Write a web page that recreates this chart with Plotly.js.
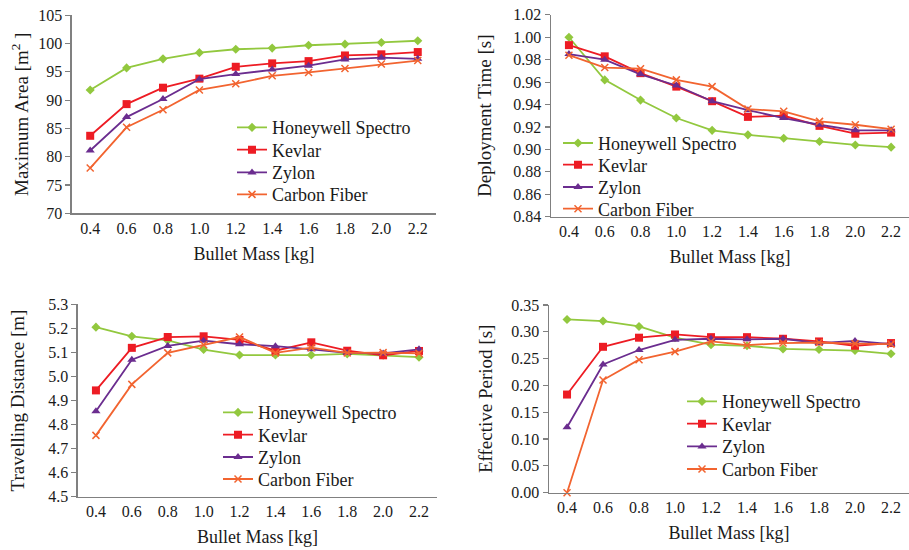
<!DOCTYPE html>
<html>
<head>
<meta charset="utf-8">
<script src="https://cdn.plot.ly/plotly-3.0.1.min.js"></script>
<style>html,body{margin:0;padding:0;background:#fff;}#chart{width:909px;height:550px;}</style>
</head>
<body>
<div id="chart"></div>
<script>
const massLabels = ["0.4","0.6","0.8","1.0","1.2","1.4","1.6","1.8","2.0","2.2"];
const seriesNames = ["Honeywell Spectro","Kevlar","Zylon","Carbon Fiber"];

// Maximum Area [m^2]
const areaHoneywell = [91.8,95.7,97.3,98.4,99.0,99.2,99.7,99.9,100.2,100.5];
const areaKevlar    = [83.7,89.3,92.2,93.8,95.9,96.5,96.9,97.9,98.1,98.5];
const areaZylon     = [81.1,87.0,90.2,93.7,94.6,95.4,96.1,97.2,97.5,97.3];
const areaCarbon    = [78.0,85.2,88.3,91.8,92.9,94.3,94.9,95.6,96.4,97.0];

// Deployment Time [s]
const timeHoneywell = [1.000,0.962,0.944,0.928,0.917,0.913,0.910,0.907,0.904,0.902];
const timeKevlar    = [0.993,0.983,0.968,0.956,0.943,0.929,0.930,0.921,0.914,0.915];
const timeZylon     = [0.985,0.980,0.967,0.957,0.943,0.935,0.928,0.922,0.917,0.917];
const timeCarbon    = [0.984,0.973,0.972,0.962,0.956,0.936,0.934,0.925,0.922,0.918];

// Travelling Distance [m]
const distHoneywell = [5.205,5.167,5.150,5.112,5.089,5.089,5.089,5.094,5.088,5.080];
const distKevlar    = [4.942,5.119,5.164,5.167,5.152,5.107,5.142,5.107,5.088,5.106];
const distZylon     = [4.855,5.070,5.127,5.149,5.134,5.126,5.113,5.098,5.096,5.113];
const distCarbon    = [4.755,4.967,5.098,5.132,5.164,5.098,5.120,5.098,5.099,5.096];

// Effective Period [s]
const periodHoneywell = [0.323,0.320,0.310,0.289,0.276,0.274,0.268,0.267,0.265,0.259];
const periodKevlar    = [0.183,0.272,0.289,0.295,0.290,0.290,0.287,0.282,0.274,0.279];
const periodZylon     = [0.122,0.239,0.266,0.285,0.287,0.286,0.287,0.279,0.283,0.277];
const periodCarbon    = [0.000,0.210,0.248,0.263,0.282,0.275,0.279,0.280,0.278,0.277];

const colors = ["#92c83e","#ed1c24","#6b2d8f","#f26430"];
const symbols = ["diamond","square","triangle-up","x-thin"];
const msizes = [7,8,8,7];

const fontFam = "'Liberation Serif', 'Times New Roman', Times, serif";
const tickTxt = {family: fontFam, size: 16, color: "#1a1a1a"};
const titleTxt = {family: fontFam, size: 18, color: "#1a1a1a"};
const yTitleTxt = {family: fontFam, size: 19, color: "#1a1a1a"};
const legTxt = {family: fontFam, size: 18, color: "#1a1a1a"};

// legend placement per panel (px): left of legend line, row centers
const panels = [
  {data:[areaHoneywell,areaKevlar,areaZylon,areaCarbon], xa:"x", ya:"y",
   legX: 232, legRows: [127.7,150,172.7,194.7]},
  {data:[timeHoneywell,timeKevlar,timeZylon,timeCarbon], xa:"x2", ya:"y2",
   legX: 558, legRows: [143.3,165,187.3,209]},
  {data:[distHoneywell,distKevlar,distZylon,distCarbon], xa:"x3", ya:"y3",
   legX: 218, legRows: [412.7,435,457.3,479.3]},
  {data:[periodHoneywell,periodKevlar,periodZylon,periodCarbon], xa:"x4", ya:"y4",
   legX: 682, legRows: [401.7,424,446.7,469.3]}
];

const traces = [];
const legends = {};
let legIdx = 0;
panels.forEach(p => {
  p.data.forEach((vals, i) => {
    legIdx++;
    const lid = legIdx === 1 ? "legend" : "legend" + legIdx;
    legends[lid] = {
      x: p.legX / 909, y: 1 - p.legRows[i] / 550,
      xanchor: "left", yanchor: "middle",
      bgcolor: "rgba(0,0,0,0)", borderwidth: 0,
      font: legTxt, itemwidth: 30
    };
    traces.push({
      type:"scatter", mode:"lines+markers",
      x: massLabels, y: vals, name: seriesNames[i],
      xaxis: p.xa, yaxis: p.ya, legend: lid,
      cliponaxis: false,
      line:{color:colors[i], width:1.8},
      marker:{color:colors[i], symbol:symbols[i], size:msizes[i],
              line:{color:colors[i], width: i===3 ? 1.5 : 0}}
    });
  });
});

function xAxis(domain, anchor) {
  return {
    domain: domain, anchor: anchor, type: "category",
    categoryorder: "array", categoryarray: massLabels,
    range: [-0.5, 9.5],
    showline: true, linecolor: "#808080", linewidth: 1.5,
    ticks: "", showgrid: false, zeroline: false,
    tickfont: tickTxt,
    title: {text: "Bullet Mass [kg]", font: titleTxt, standoff: 11}
  };
}
function yAxis(domain, anchor, range, dtick, fmt, title, standoff) {
  return {
    domain: domain, anchor: anchor, range: range, dtick: dtick, tickformat: fmt,
    showline: true, linecolor: "#808080", linewidth: 1.5,
    ticks: "outside", ticklen: 5, tickcolor: "#808080", tickwidth: 1.2,
    showgrid: false, zeroline: false,
    tickfont: tickTxt,
    title: {text: title, font: yTitleTxt, standoff: standoff}
  };
}

const layout = Object.assign({
  width: 909, height: 550,
  margin: {l:0, r:0, t:0, b:0},
  paper_bgcolor: "#fff", plot_bgcolor: "#fff",
  font: tickTxt,
  showlegend: true,
  xaxis:  xAxis([0.0792, 0.4796], "y"),
  yaxis:  yAxis([0.6122, 0.9722], "x", [70, 105], 5, "d", "Maximum Area [m<sup>2</sup> ]", 4),
  xaxis2: xAxis([0.6062, 1.0], "y2"),
  yaxis2: yAxis([0.606, 0.973], "x2", [0.84, 1.02], 0.02, ".2f", "Deployment Time [s]", 16),
  xaxis3: xAxis([0.0858, 0.4807], "y3"),
  yaxis3: yAxis([0.0969, 0.4467], "x3", [4.5, 5.3], 0.1, ".1f", "Travelling Distance [m]", 18),
  xaxis4: xAxis([0.604, 1.0], "y4"),
  yaxis4: yAxis([0.1042, 0.4455], "x4", [0, 0.35], 0.05, ".2f", "Effective Period [s]", 13)
}, legends);

Plotly.newPlot("chart", traces, layout, {staticPlot: true, displayModeBar: false});
</script>
</body>
</html>
